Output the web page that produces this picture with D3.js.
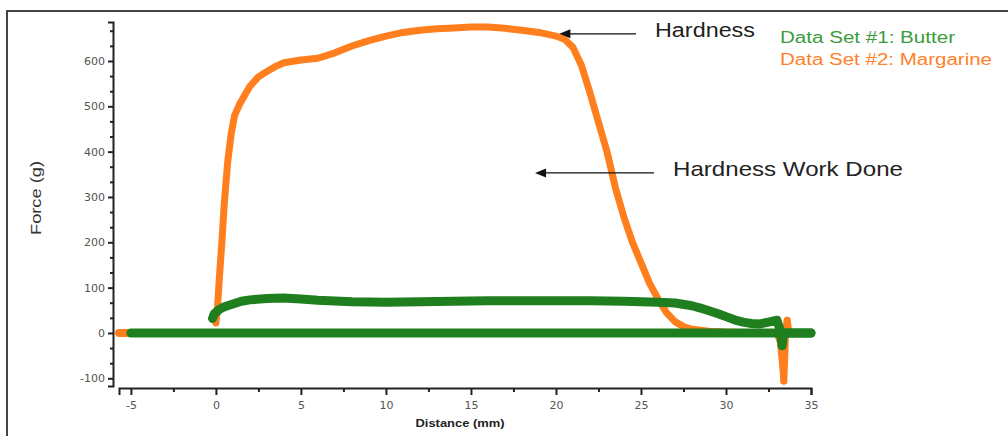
<!DOCTYPE html>
<html>
<head>
<meta charset="utf-8">
<script src="https://cdn.jsdelivr.net/npm/d3@7/dist/d3.min.js"></script>
<style>
  html, body { margin: 0; padding: 0; background: #fff; }
  svg { display: block; font-family: "Liberation Sans", Arial, sans-serif; }
  .tick text { font-family: "DejaVu Sans", sans-serif; font-size: 11px; fill: #555; }
  .axis path, .axis line { stroke: #222; }
</style>
</head>
<body>
<div class="chart"></div>
<script>
"use strict";

// Data Set #2: Margarine, loading curve (distance mm, force g)
var margDist  = [0, 0.1, 0.2, 0.35, 0.5, 0.7, 0.9, 1.1, 1.4, 1.7, 2, 2.5, 3, 3.5, 4, 5, 6, 7, 8, 9, 10,
                 11, 12, 13, 14, 15, 16, 17, 18, 19, 20, 20.5, 21, 21.5, 22, 22.5, 23, 23.5, 24, 24.5,
                 25, 25.5, 26, 26.5, 27, 27.5, 28, 29, 30, 31, 32, 33, 33.2, 33.35, 33.4, 33.45, 33.5,
                 33.6, 33.7, 34, 35];
var margForce = [22, 60, 120, 200, 290, 380, 440, 480, 505, 525, 544, 565, 577, 588, 596, 602, 606, 618,
                 633, 645, 655, 663, 668, 671, 673, 675, 675, 672, 668, 663, 655, 648, 630, 590, 530,
                 465, 400, 320, 255, 200, 155, 110, 75, 45, 25, 14, 8, 4, 2, 1, 0, 0, -20, -77, -106,
                 -60, 0, 28, 0, 0, 0];
// return stroke along zero
var margBaseDist = [-5.7, 35];
var margBaseForce = [0, 0];

// Data Set #1: Butter
var butterDist  = [-0.2, -0.1, 0.2, 0.5, 1, 1.5, 2, 3, 4, 5, 6, 8, 10, 12, 14, 16, 18, 20, 22, 24, 25,
                   26, 27, 28, 28.5, 29, 29.5, 30, 30.5, 31, 31.5, 32, 32.5, 33, 33.2, 33.3, 33.4, 34, 35];
var butterForce = [32, 42, 52, 58, 64, 70, 73, 76, 77, 75, 72, 69, 68, 69, 70, 71, 71, 71, 71, 70, 69,
                   68, 66, 60, 55, 49, 43, 36, 29, 24, 21, 20, 24, 28, 5, -28, 0, 0, 0];
var butterBaseDist = [-5, 35];
var butterBaseForce = [0, 0];

var xMajor = [-5, 0, 5, 10, 15, 20, 25, 30, 35];
var xMinor = [-2.5, 2.5, 7.5, 12.5, 17.5, 22.5, 27.5, 32.5];
var yMajor = [-100, 0, 100, 200, 300, 400, 500, 600];
var yMinor = [-66.7, -33.3, 33.3, 66.7, 133.3, 166.7, 233.3, 266.7, 333.3, 366.7, 433.3, 466.7,
              533.3, 566.7, 633.3, 666.7];

var seriesNames = ["Data Set #1: Butter", "Data Set #2: Margarine"];
var green = "#1f7f1f", orange = "#ff7f1e";

var width = 1008, height = 436;

var svg = d3.select(".chart").append("svg")
    .attr("width", width)
    .attr("height", height);

// outer frame
svg.append("rect")
    .attr("x", 7).attr("y", 11)
    .attr("width", 1020).attr("height", 450)
    .attr("fill", "none")
    .attr("stroke", "#444")
    .attr("stroke-width", 2);

var x = d3.scaleLinear().domain([-5.7, 35]).range([119, 811]);
var y = d3.scaleLinear().domain([-117, 686]).range([386, 22]);

var plain = function(d){ return String(d); };

// x axis
var xAxis = svg.append("g").attr("class", "axis")
    .attr("transform", "translate(0,388)")
    .call(d3.axisBottom(x).tickValues(xMajor).tickFormat(plain).tickSizeOuter(0).tickSize(7).tickPadding(6));
xAxis.select(".domain").attr("stroke-width", 2);
xAxis.selectAll(".tick line").attr("stroke-width", 2);
svg.append("g").attr("class", "axis")
    .attr("transform", "translate(0,388)")
    .call(d3.axisBottom(x).tickValues(xMinor).tickSizeOuter(0).tickSize(4).tickFormat(""))
    .call(function(g){ g.select(".domain").remove(); })
    .selectAll(".tick line").attr("stroke-width", 2);

// y axis
var yAxis = svg.append("g").attr("class", "axis")
    .attr("transform", "translate(113,0)")
    .call(d3.axisLeft(y).tickValues(yMajor).tickFormat(plain).tickSizeOuter(0).tickSize(5).tickPadding(3));
yAxis.select(".domain").attr("stroke-width", 2);
yAxis.selectAll(".tick line").attr("stroke-width", 2);
svg.append("g").attr("class", "axis")
    .attr("transform", "translate(113,0)")
    .call(d3.axisLeft(y).tickValues(yMinor).tickSizeOuter(0).tickSize(3).tickFormat(""))
    .call(function(g){ g.select(".domain").remove(); })
    .selectAll(".tick line").attr("stroke-width", 2);

// axis titles
svg.append("text")
    .attr("transform", "translate(41,198) rotate(-90)")
    .attr("text-anchor", "middle")
    .attr("font-size", 15)
    .attr("fill", "#333")
    .attr("textLength", 74)
    .attr("lengthAdjust", "spacingAndGlyphs")
    .text("Force (g)");

svg.append("text")
    .attr("x", 460).attr("y", 427)
    .attr("text-anchor", "middle")
    .attr("font-size", 11)
    .attr("font-weight", "bold")
    .attr("fill", "#222")
    .attr("textLength", 89)
    .attr("lengthAdjust", "spacingAndGlyphs")
    .text("Distance (mm)");

// data
var line = d3.line()
    .x(function(d){ return x(d[0]); })
    .y(function(d){ return y(d[1]); });

function pairs(xs, ys){ return xs.map(function(v, i){ return [v, ys[i]]; }); }

function drawSeries(xs, ys, color, w){
  var pts = pairs(xs, ys);
  svg.append("path")
      .datum(pts)
      .attr("d", line)
      .attr("fill", "none")
      .attr("stroke", color)
      .attr("stroke-width", w)
      .attr("stroke-linejoin", "round")
      .attr("stroke-linecap", "round");
  return pts;
}

drawSeries(margBaseDist, margBaseForce, orange, 8);
var margPts = drawSeries(margDist, margForce, orange, 7);
// the isolated sample dots on the spike
svg.append("g").selectAll("circle")
    .data(margPts.filter(function(d){ return d[1] < -70 || d[1] > 20 && d[0] > 33; }))
    .enter().append("circle")
    .attr("cx", function(d){ return x(d[0]); })
    .attr("cy", function(d){ return y(d[1]); })
    .attr("r", 3.5)
    .attr("fill", orange);

drawSeries(butterBaseDist, butterBaseForce, green, 9);
drawSeries(butterDist, butterForce, green, 9);

// annotations
function arrow(x1, y1, x2, y2){
  svg.append("line")
      .attr("x1", x1).attr("y1", y1).attr("x2", x2 + 8).attr("y2", y2)
      .attr("stroke", "#111").attr("stroke-width", 1.2);
  svg.append("path")
      .attr("d", "M" + x2 + "," + y2 + "L" + (x2 + 11) + "," + (y2 - 4.5) + "L" + (x2 + 11) + "," + (y2 + 4.5) + "Z")
      .attr("fill", "#111");
}
arrow(636, y(660), x(20.2), y(660));
arrow(654, y(353), x(18.77), y(353));

svg.append("text")
    .attr("x", 655).attr("y", 37)
    .attr("font-size", 20).attr("fill", "#222")
    .attr("textLength", 100).attr("lengthAdjust", "spacingAndGlyphs")
    .text("Hardness");

svg.append("text")
    .attr("x", 673).attr("y", 176)
    .attr("font-size", 21).attr("fill", "#222")
    .attr("textLength", 230).attr("lengthAdjust", "spacingAndGlyphs")
    .text("Hardness Work Done");

// legend
svg.append("g").selectAll("text")
    .data(seriesNames)
    .enter().append("text")
    .attr("x", 780)
    .attr("y", function(d, i){ return 43 + i * 22; })
    .attr("font-size", 16)
    .attr("fill", function(d, i){ return i === 0 ? "#3c9b3c" : "#ff7f2a"; })
    .attr("textLength", function(d, i){ return i === 0 ? 175 : 212; })
    .attr("lengthAdjust", "spacingAndGlyphs")
    .text(function(d){ return d; });
</script>
</body>
</html>
